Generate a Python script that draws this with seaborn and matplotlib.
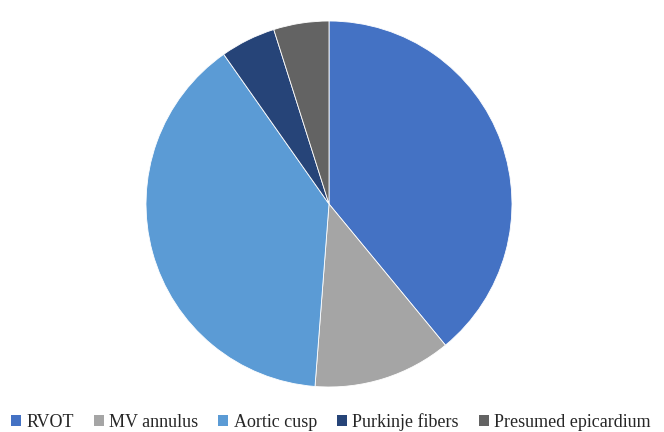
import matplotlib
matplotlib.use("Agg")
import matplotlib.pyplot as plt
from matplotlib.patches import Patch
from matplotlib.font_manager import FontProperties
import seaborn as sns

categories = ["RVOT", "MV annulus", "Aortic cusp", "Purkinje fibers", "Presumed epicardium"]
counts = [16, 5, 16, 2, 2]
colors = ["#4472C4", "#A5A5A5", "#5B9BD5", "#264478", "#636363"]

sns.set_theme(style="white")
plt.rcParams["font.family"] = "serif"
plt.rcParams["font.serif"] = ["Liberation Serif", "Times New Roman", "DejaVu Serif"]

palette = sns.color_palette(colors)

fig = plt.figure(figsize=(6.64, 4.32), dpi=100)
ax = fig.add_axes([146 / 664, 45 / 432, 366 / 664, 366 / 432])
ax.pie(counts, colors=palette, startangle=90, counterclock=False, radius=1.0,
       wedgeprops=dict(edgecolor="white", linewidth=0.6))
ax.set_xlim(-1, 1)
ax.set_ylim(-1, 1)
ax.set_aspect("equal")
ax.axis("off")

handles = [Patch(facecolor=c, edgecolor="none") for c in palette]
legend_font = FontProperties(family="Liberation Serif", size=13)
fig.legend(handles, categories, loc="center", bbox_to_anchor=(331 / 664, 1 - 422 / 432),
           ncol=5, frameon=False, prop=legend_font, handlelength=0.55, handleheight=0.55,
           handletextpad=0.3, columnspacing=1.1, borderaxespad=0, borderpad=0)

fig.savefig("out.png", dpi=100)
